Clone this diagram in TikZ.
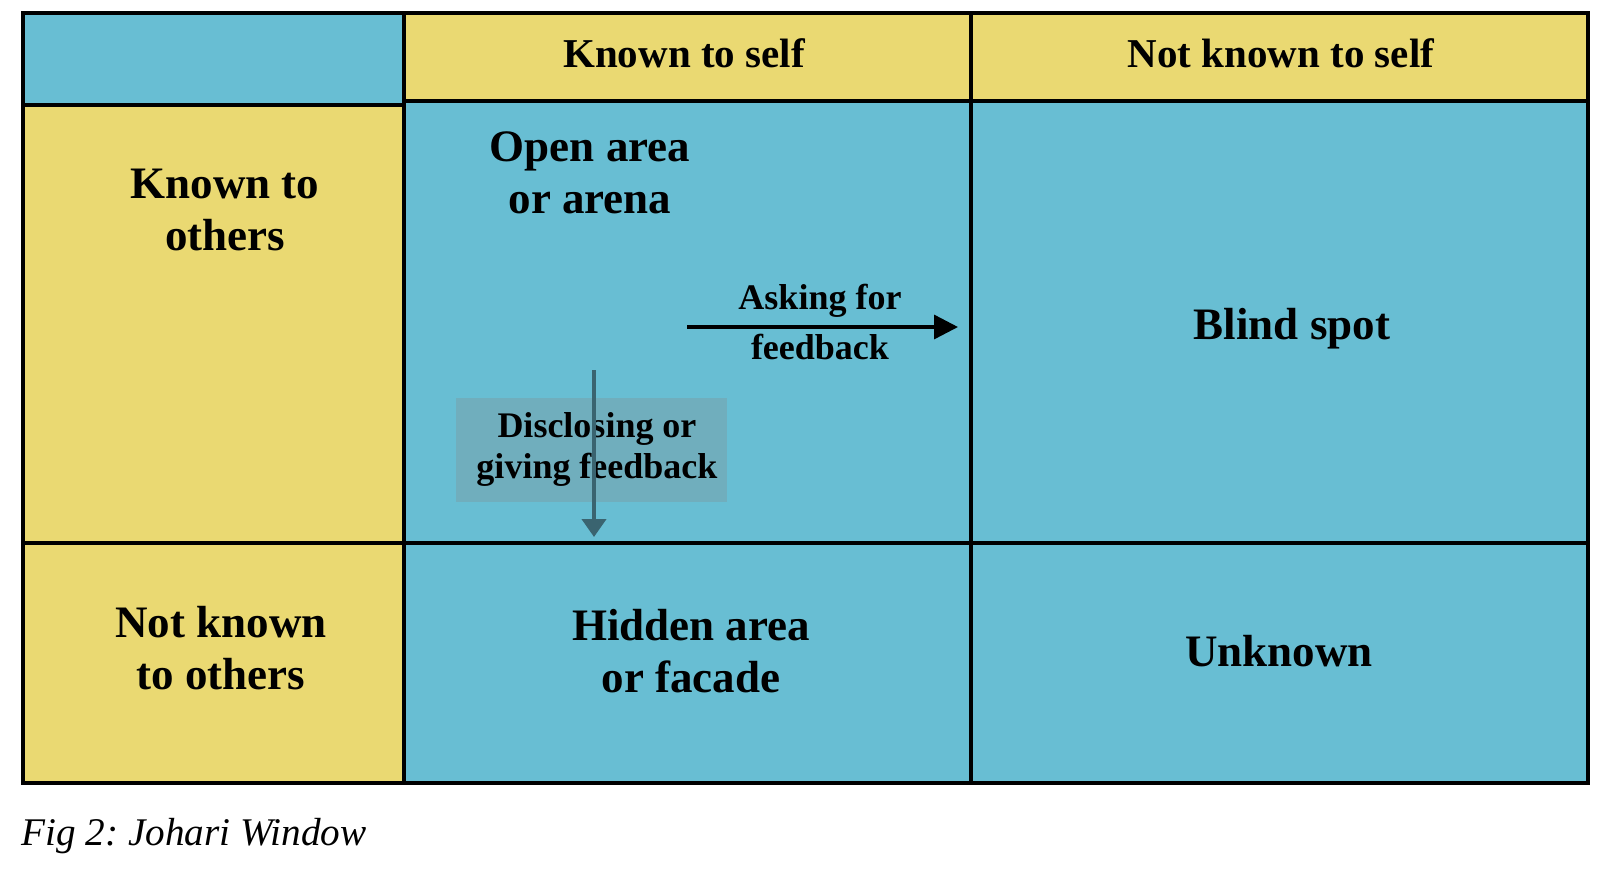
\documentclass[tikz,border=0pt]{standalone}
\usepackage{fontspec}
\setmainfont{Liberation Serif}
\usetikzlibrary{arrows.meta}
\definecolor{paneblue}{RGB}{104,190,211}
\definecolor{paneyellow}{RGB}{234,217,114}
\definecolor{notebox}{RGB}{112,174,189}
\definecolor{notearrow}{RGB}{58,100,112}
\frenchspacing
\begin{document}
\begin{tikzpicture}[
  x=0.5pt, y=-0.5pt,
  grid/.style={line width=1.8pt, line cap=rect},
  big/.style={align=center, font=\bfseries\fontsize{22.5pt}{26pt}\selectfont},
  head/.style={align=center, font=\bfseries\fontsize{20.5pt}{24pt}\selectfont},
  small/.style={align=center, font=\bfseries\fontsize{18pt}{25pt}\selectfont},
  arrow/.style={-{Triangle[length=12pt, width=12pt]}, line width=1.7pt}
]
\useasboundingbox (0,0) rectangle (1619,869);
% cells
\fill[paneblue] (23,13) rectangle (404,105);
\fill[paneyellow] (404,13) rectangle (1588,101);
\fill[paneyellow] (23,105) rectangle (404,783);
\fill[paneblue] (404,101) rectangle (1588,783);
% lines
\draw[grid] (23,13) rectangle (1588,783);
\draw[grid] (404,13) -- (404,783);
\draw[grid] (971,13) -- (971,783);
\draw[grid] (404,101) -- (1588,101);
\draw[grid] (23,105) -- (404,105);
\draw[grid] (23,543) -- (1588,543);
% labels
\node[head] (self) at (684,53) {Known to self};
\node[head] (notself) at (1281,53) {Not known to self};
\node[big] (others) at (225,210) {Known to\\others};
\node[big] (notothers) at (221,648) {Not known\\to others};
\node[big] (open) at (590,173) {Open area\\or arena};
\node[big] (blind) at (1292,329) {Blind spot};
\node[big] (hidden) at (691,651) {Hidden area\\or facade};
\node[big] (unknown) at (1279,651) {Unknown};
% arrows
\coordinate (askfrom) at (687,327);
\coordinate (askto) at (958,327);
\draw[arrow] (askfrom) -- (askto);
\node[small] (asking) at (820,322) {Asking for\\feedback};
\node[fill=notebox, minimum width=135.5pt, minimum height=52pt, inner sep=0pt] (disclosebox) at (591.5,450) {};
\node[align=center, font=\bfseries\fontsize{18pt}{20.5pt}\selectfont] (disclose) at (597,449) {Disclosing or\\giving feedback};
\coordinate (givefrom) at (594,370);
\coordinate (giveto) at (594,537);
\draw[-{Triangle[length=9pt, width=12pt]}, line width=2pt, draw=notearrow] (givefrom) -- (giveto);
% caption
\node[anchor=base west, inner sep=0pt, font=\itshape\fontsize{19.6pt}{23pt}\selectfont] (caption) at (21,845) {Fig 2: Johari Window};
\end{tikzpicture}
\end{document}
